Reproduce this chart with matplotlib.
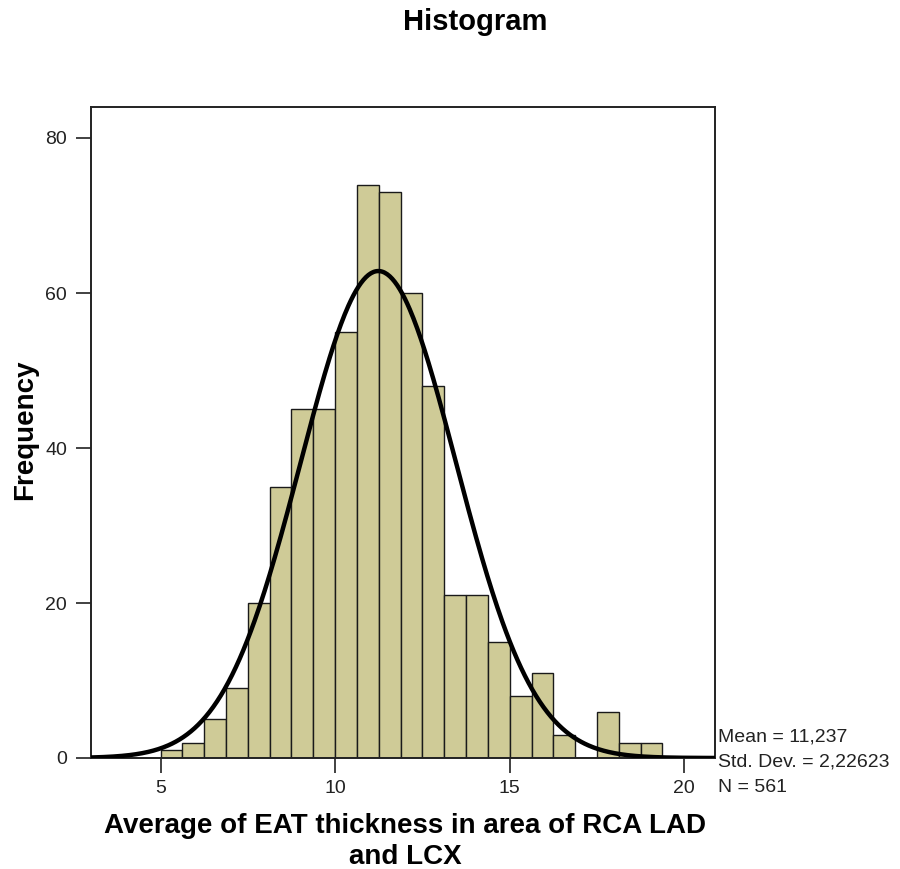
import numpy as np
import matplotlib
matplotlib.use("Agg")
import matplotlib.pyplot as plt

plt.rcParams['font.family'] = ['Liberation Sans', 'DejaVu Sans']

# histogram counts (bins of 0.625 starting at 5.0)
bin_start = 5.0
bin_width = 0.625
counts = [1, 2, 5, 9, 20, 35, 45, 45, 55, 74, 73, 60, 48, 21, 21, 15, 8, 11, 3, 0, 6, 2, 2]

# summary stats printed in the chart
mean = 11.237
std_dev = 2.22623
n_total = 561

x_ticks = [5, 10, 15, 20]
y_ticks = [0, 20, 40, 60, 80]

W, H = 900, 869
fig = plt.figure(figsize=(W / 100, H / 100), dpi=100)
ax = fig.add_axes([90.7 / W, 1 - 758 / H, (715 - 90.7) / W, (758 - 107) / H])

lefts = bin_start + bin_width * np.arange(len(counts))
ax.bar(lefts, counts, width=bin_width, align='edge', color='#cfcb97',
       edgecolor='#1a1a1a', linewidth=1.0, zorder=2)

# normal curve scaled to the histogram
xs = np.linspace(3.0, 20.88, 500)
ys = n_total * bin_width / (std_dev * np.sqrt(2 * np.pi)) * np.exp(-0.5 * ((xs - mean) / std_dev) ** 2)
ax.plot(xs, ys, color='black', linewidth=3.2, zorder=3, solid_capstyle='butt')

ax.set_xlim(3.0, 20.88)
ax.set_ylim(0, 84)
ax.set_xticks(x_ticks)
ax.set_yticks(y_ticks)
ax.tick_params(axis='both', direction='out', length=11, width=1.3, color='#333333',
               labelsize=14, labelcolor='#222222')
ax.tick_params(axis='x', pad=5)
ax.tick_params(axis='y', pad=6)
for s in ax.spines.values():
    s.set_color('#222222')
    s.set_linewidth(1.4)

fig.text(475 / W, 1 - 22 / H, 'Histogram', ha='center', va='center',
         fontsize=21, fontweight='bold')
fig.text(25 / W, 1 - 430 / H, 'Frequency', ha='center', va='center',
         rotation=90, fontsize=20, fontweight='bold')
fig.text(405 / W, 1 - 826 / H, 'Average of EAT thickness in area of RCA LAD',
         ha='center', va='center', fontsize=20, fontweight='bold')
fig.text(405 / W, 1 - 857 / H, 'and LCX', ha='center', va='center',
         fontsize=20, fontweight='bold')

stats = ['Mean = ' + f'{mean:.3f}'.replace('.', ','),
         'Std. Dev. = ' + f'{std_dev:.5f}'.replace('.', ','),
         'N = ' + str(n_total)]
for i, line in enumerate(stats):
    fig.text(718 / W, 1 - (741.7 + 25 * i) / H, line, ha='left', va='baseline',
             fontsize=14, color='#222222')

fig.savefig('out.png', dpi=100)
